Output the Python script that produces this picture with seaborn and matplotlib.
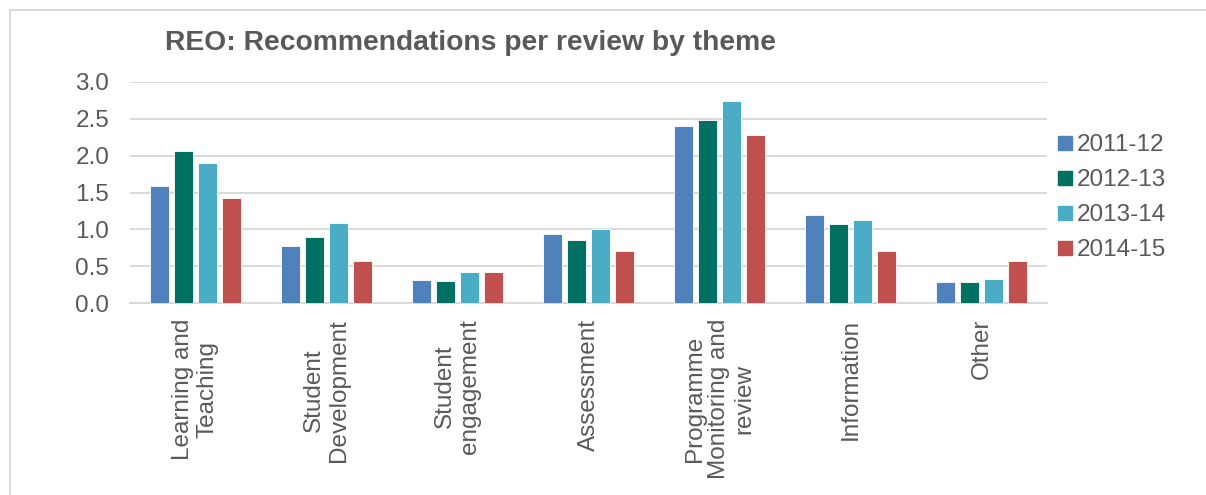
import matplotlib
matplotlib.use("Agg")
import matplotlib.pyplot as plt
from matplotlib.lines import Line2D
import seaborn as sns
import pandas as pd

themes = [
    "Learning and\nTeaching",
    "Student\nDevelopment",
    "Student\nengagement",
    "Assessment",
    "Programme\nMonitoring and\nreview",
    "Information",
    "Other",
]
years = ["2011-12", "2012-13", "2013-14", "2014-15"]
v_2011_12 = [1.59, 0.77, 0.31, 0.94, 2.40, 1.19, 0.28]
v_2012_13 = [2.06, 0.90, 0.30, 0.85, 2.48, 1.07, 0.29]
v_2013_14 = [1.90, 1.09, 0.42, 1.00, 2.74, 1.13, 0.32]
v_2014_15 = [1.43, 0.57, 0.42, 0.71, 2.28, 0.71, 0.57]
colors = ["#4F81BD", "#007063", "#4BACC6", "#C0504D"]

series = [v_2011_12, v_2012_13, v_2013_14, v_2014_15]
df = pd.DataFrame(
    [(t, y, v) for y, vals in zip(years, series) for t, v in zip(themes, vals)],
    columns=["theme", "year", "value"],
)

sns.set_theme(style="white")
plt.rcParams["font.family"] = ["Liberation Sans", "DejaVu Sans"]
text_col = "#595959"
grid_col = "#D9D9D9"
fs = 17.5

fig = plt.figure(figsize=(12.06, 4.95), dpi=100)
ax = fig.add_axes([130 / 1206, 1 - 303 / 495, (1047 - 130) / 1206, (303 - 82) / 495])

sns.barplot(
    data=df, x="theme", y="value", hue="year", order=themes, hue_order=years,
    palette=colors, width=0.725, gap=0.2, saturation=1, ax=ax,
    edgecolor="white", linewidth=0.6, legend=False, zorder=3,
)

ax.set_ylim(0, 3.0)
ax.set_yticks([0, 0.5, 1.0, 1.5, 2.0, 2.5, 3.0])
ax.set_yticklabels([f"{t:.1f}" for t in ax.get_yticks()])
ax.set_xlim(-0.5, len(themes) - 0.5)
ax.grid(axis="y", color=grid_col, linewidth=1.4, zorder=0)
ax.set_axisbelow(True)
for s in ["left", "right", "top"]:
    ax.spines[s].set_visible(False)
ax.spines["bottom"].set_color(grid_col)
ax.spines["bottom"].set_linewidth(1.4)
ax.set_xlabel("")
ax.set_ylabel("")
ax.tick_params(axis="y", length=0, labelsize=fs, labelcolor=text_col, pad=15)
ax.tick_params(axis="x", length=0, labelsize=fs, labelcolor=text_col, pad=11.5)
for lbl in ax.get_xticklabels():
    lbl.set_rotation(90)
    lbl.set_multialignment("center")
    lbl.set_linespacing(1.15)
    lbl.set_va("top")
    lbl.set_ha("center")

handles = [
    Line2D([0], [0], marker="s", linestyle="none", markersize=9.4,
           markerfacecolor=c, markeredgecolor=c)
    for c in colors
]
fig.legend(
    handles, years, loc="upper left", bbox_to_anchor=(1054 / 1206, 1 - 134 / 495),
    frameon=False, fontsize=fs, labelcolor=text_col, handletextpad=0.05,
    handlelength=0.9, labelspacing=0.54, borderaxespad=0, borderpad=0,
)

fig.text(165 / 1206, 1 - 43 / 495, "REO: Recommendations per review by theme",
         fontsize=20.3, fontweight="bold", color=text_col, ha="left", va="center")

# chart frame
fig.add_artist(Line2D([9.5 / 1206, 1], [1 - 10 / 495, 1 - 10 / 495],
                      transform=fig.transFigure, color=grid_col, linewidth=1.3))
fig.add_artist(Line2D([9.5 / 1206, 9.5 / 1206], [0, 1 - 10 / 495],
                      transform=fig.transFigure, color=grid_col, linewidth=1.3))

fig.savefig("out.png", dpi=100)
